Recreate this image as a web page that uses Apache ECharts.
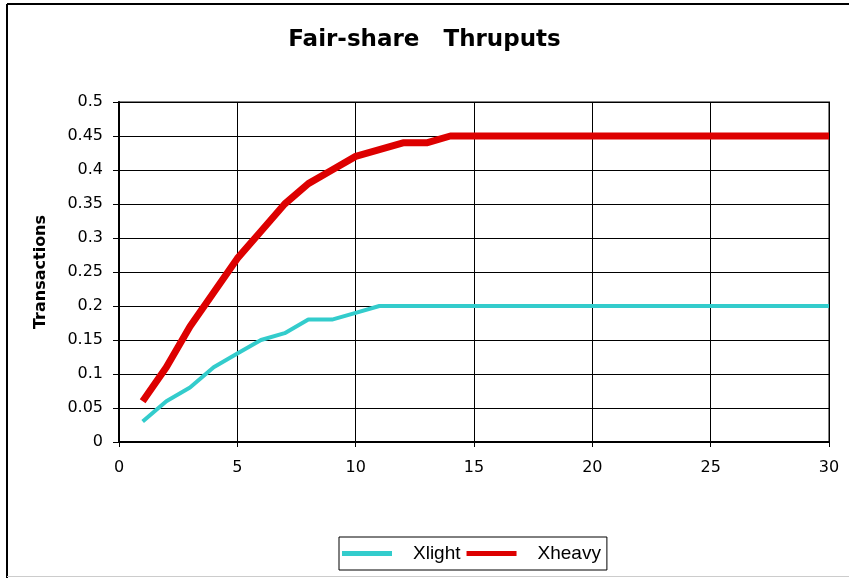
<!DOCTYPE html>
<html>
<head>
<meta charset="utf-8">
<script src="https://cdn.jsdelivr.net/npm/echarts@6/dist/echarts.min.js"></script>
<style>
html,body{margin:0;padding:0;background:#fff;}
#c{width:849px;height:578px;}
</style>
</head>
<body>
<div id="c"></div>
<script>
const xValues = [1,2,3,4,5,6,7,8,9,10,11,12,13,14,15,16,17,18,19,20,21,22,23,24,25,26,27,28,29,30];
const xlight = [0.03,0.06,0.08,0.11,0.13,0.15,0.16,0.18,0.18,0.19,0.20,0.20,0.20,0.20,0.20,0.20,0.20,0.20,0.20,0.20,0.20,0.20,0.20,0.20,0.20,0.20,0.20,0.20,0.20,0.20];
const xheavy = [0.06,0.11,0.17,0.22,0.27,0.31,0.35,0.38,0.40,0.42,0.43,0.44,0.44,0.45,0.45,0.45,0.45,0.45,0.45,0.45,0.45,0.45,0.45,0.45,0.45,0.45,0.45,0.45,0.45,0.45];
const titleText = 'Fair-share   Thruputs';
const yAxisTitle = 'Transactions';
const seriesNames = ['Xlight','Xheavy'];

const chart = echarts.init(document.getElementById('c'), null, {renderer:'canvas'});
const font = '"DejaVu Sans", "Liberation Sans", sans-serif';
chart.setOption({
  animation:false,
  backgroundColor:'#fff',
  title:{
    text:titleText, left:'center', top:24,
    textStyle:{fontFamily:font, fontWeight:'bold', fontSize:23, color:'#000'}
  },
  graphic:[
    {type:'line', shape:{x1:7,y1:4,x2:849,y2:4}, style:{stroke:'#000',lineWidth:2}, z:100},
    {type:'line', shape:{x1:7,y1:4,x2:7,y2:578}, style:{stroke:'#000',lineWidth:2}, z:100},
    {type:'line', shape:{x1:7,y1:576.5,x2:849,y2:576.5}, style:{stroke:'#ccc',lineWidth:1}, z:100}
  ],
  legend:{
    left:339, top:537, width:268, height:33,
    data:seriesNames,
    orient:'horizontal',
    icon:'rect',
    itemWidth:50, itemHeight:5, itemGap:6,
    padding:[7,6,7,3],
    borderColor:'#000', borderWidth:1,
    textStyle:{fontFamily:'"Liberation Sans", Arial, sans-serif', fontSize:19, color:'#000', padding:[0,0,0,16]}
  },
  grid:{left:119, right:20, top:102, bottom:136, show:true, borderColor:'#808080', borderWidth:2, backgroundColor:'#fff'},
  xAxis:{
    type:'value', min:0, max:30, interval:5,
    axisLine:{show:true, onZero:false, lineStyle:{color:'#000', width:2}},
    axisTick:{show:true, inside:false, length:5, lineStyle:{color:'#000'}},
    axisLabel:{margin:18, fontFamily:font, fontSize:16, color:'#000'},
    splitLine:{show:true, lineStyle:{color:'#000', width:1}}
  },
  yAxis:{
    type:'value', min:0, max:0.5, interval:0.05,
    name:yAxisTitle, nameLocation:'middle', nameGap:70, nameRotate:90,
    nameTextStyle:{fontFamily:font, fontWeight:'bold', fontSize:16, color:'#000'},
    axisLine:{show:true, lineStyle:{color:'#000', width:2}},
    axisTick:{show:true, inside:false, length:6, lineStyle:{color:'#000'}},
    axisLabel:{margin:16, fontFamily:font, fontSize:16, color:'#000'},
    splitLine:{show:true, lineStyle:{color:'#000', width:1}}
  },
  series:[
    {name:seriesNames[0], type:'line', data:xValues.map((x,i)=>[x,xlight[i]]), showSymbol:false, symbol:'none',
     lineStyle:{color:'#33cccc', width:4}, itemStyle:{color:'#33cccc'}, z:3},
    {name:seriesNames[1], type:'line', data:xValues.map((x,i)=>[x,xheavy[i]]), showSymbol:false, symbol:'none',
     lineStyle:{color:'#dd0000', width:7}, itemStyle:{color:'#dd0000'}, z:4}
  ]
});
</script>
</body>
</html>
